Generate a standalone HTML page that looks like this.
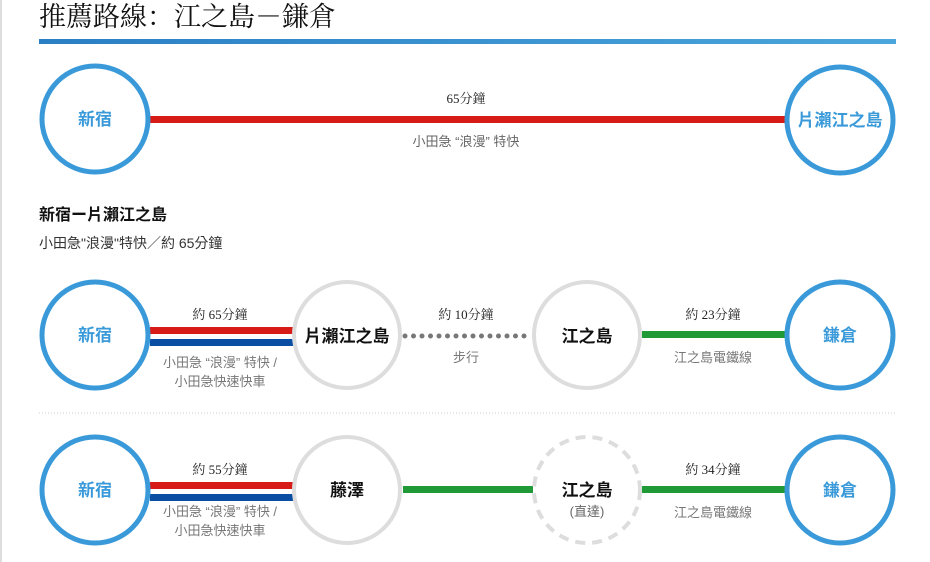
<!DOCTYPE html>
<html><head><meta charset="utf-8"><style>
html,body{margin:0;padding:0;background:#fff;width:930px;height:562px;overflow:hidden}
svg{display:block}
text{font-family:"Liberation Sans","Noto Sans CJK TC",sans-serif}
.serif{font-family:"Liberation Serif","Noto Serif CJK SC",serif}
</style></head><body>
<svg width="930" height="562" viewBox="0 0 930 562" xmlns="http://www.w3.org/2000/svg">
<defs><linearGradient id="g" x1="0" x2="1"><stop offset="0" stop-color="#2a7fc4"/><stop offset="1" stop-color="#4aa6dc"/></linearGradient></defs>
<rect x="0" y="0" width="2" height="562" fill="#ddd"/>
<text class="serif" x="39" y="26" font-size="27" fill="#111">推薦路線：江之島－鎌倉</text>
<rect x="39" y="39" width="857" height="5" fill="url(#g)"/>

<!-- row 1 -->
<rect x="150" y="116" width="640" height="7" fill="#d71c18"/>
<circle cx="95" cy="119" r="53" fill="#fff" stroke="#3a9ad9" stroke-width="5"/>
<circle cx="840" cy="120" r="53" fill="#fff" stroke="#3a9ad9" stroke-width="5"/>
<text x="95" y="125" font-size="17" fill="#3a9ad9" text-anchor="middle" font-weight="bold">新宿</text>
<text x="840" y="126" font-size="17" fill="#3a9ad9" text-anchor="middle" font-weight="bold">片瀨江之島</text>
<text class="serif" x="466" y="103" font-size="13" fill="#222" text-anchor="middle">65分鐘</text>
<text x="466" y="146" font-size="13" fill="#666" text-anchor="middle">小田急 “浪漫” 特快</text>

<text x="39" y="220" font-size="16" fill="#111" font-weight="bold">新宿ー片瀨江之島</text>
<text x="39" y="248" font-size="14" fill="#333">小田急"浪漫"特快／約  65分鐘</text>

<!-- row 2 -->
<rect x="150" y="327" width="145" height="7" fill="#d71c18"/>
<rect x="150" y="339" width="145" height="7" fill="#0a4ea3"/>
<line x1="405" y1="336" x2="530" y2="336" stroke="#777" stroke-width="5" stroke-linecap="round" stroke-dasharray="0 8.5"/>
<rect x="642" y="331" width="150" height="7" fill="#1f9a36"/>
<circle cx="95" cy="335" r="53" fill="#fff" stroke="#3a9ad9" stroke-width="5"/>
<circle cx="347" cy="335" r="53" fill="#fff" stroke="#ddd" stroke-width="4"/>
<circle cx="587" cy="335" r="53" fill="#fff" stroke="#ddd" stroke-width="4"/>
<circle cx="840" cy="335" r="53" fill="#fff" stroke="#3a9ad9" stroke-width="5"/>
<text x="95" y="341" font-size="17" fill="#3a9ad9" text-anchor="middle" font-weight="bold">新宿</text>
<text x="347" y="342" font-size="17" fill="#111" text-anchor="middle" font-weight="bold">片瀨江之島</text>
<text x="587" y="342" font-size="17" fill="#111" text-anchor="middle" font-weight="bold">江之島</text>
<text x="840" y="341" font-size="17" fill="#3a9ad9" text-anchor="middle" font-weight="bold">鎌倉</text>
<text class="serif" x="220" y="319" font-size="13" fill="#222" text-anchor="middle">約  65分鐘</text>
<text x="220" y="367" font-size="13" fill="#777" text-anchor="middle">小田急 “浪漫” 特快  /</text>
<text x="220" y="386" font-size="13" fill="#777" text-anchor="middle">小田急快速快車</text>
<text class="serif" x="466" y="319" font-size="13" fill="#222" text-anchor="middle">約  10分鐘</text>
<text x="466" y="362" font-size="13" fill="#777" text-anchor="middle">步行</text>
<text class="serif" x="713" y="319" font-size="13" fill="#222" text-anchor="middle">約  23分鐘</text>
<text x="713" y="362" font-size="13" fill="#777" text-anchor="middle">江之島電鐵線</text>

<line x1="39" y1="413" x2="896" y2="413" stroke="#ccc" stroke-width="1" stroke-dasharray="1 2"/>

<!-- row 3 -->
<rect x="150" y="482" width="145" height="7" fill="#d71c18"/>
<rect x="150" y="494" width="145" height="7" fill="#0a4ea3"/>
<rect x="403" y="486" width="130" height="7" fill="#1f9a36"/>
<rect x="642" y="486" width="150" height="7" fill="#1f9a36"/>
<circle cx="95" cy="490" r="53" fill="#fff" stroke="#3a9ad9" stroke-width="5"/>
<circle cx="347" cy="490" r="53" fill="#fff" stroke="#ddd" stroke-width="4"/>
<circle cx="587" cy="490" r="53" fill="#fff" stroke="#ddd" stroke-width="4" stroke-dasharray="10 7"/>
<circle cx="840" cy="490" r="53" fill="#fff" stroke="#3a9ad9" stroke-width="5"/>
<text x="95" y="496" font-size="17" fill="#3a9ad9" text-anchor="middle" font-weight="bold">新宿</text>
<text x="347" y="496" font-size="17" fill="#111" text-anchor="middle" font-weight="bold">藤澤</text>
<text x="587" y="496" font-size="17" fill="#111" text-anchor="middle" font-weight="bold">江之島</text>
<text x="587" y="516" font-size="13" fill="#666" text-anchor="middle">(直達)</text>
<text x="840" y="496" font-size="17" fill="#3a9ad9" text-anchor="middle" font-weight="bold">鎌倉</text>
<text class="serif" x="220" y="474" font-size="13" fill="#222" text-anchor="middle">約  55分鐘</text>
<text x="220" y="516" font-size="13" fill="#777" text-anchor="middle">小田急 “浪漫” 特快  /</text>
<text x="220" y="535" font-size="13" fill="#777" text-anchor="middle">小田急快速快車</text>
<text class="serif" x="713" y="474" font-size="13" fill="#222" text-anchor="middle">約  34分鐘</text>
<text x="713" y="517" font-size="13" fill="#777" text-anchor="middle">江之島電鐵線</text>
</svg>
</body></html>
